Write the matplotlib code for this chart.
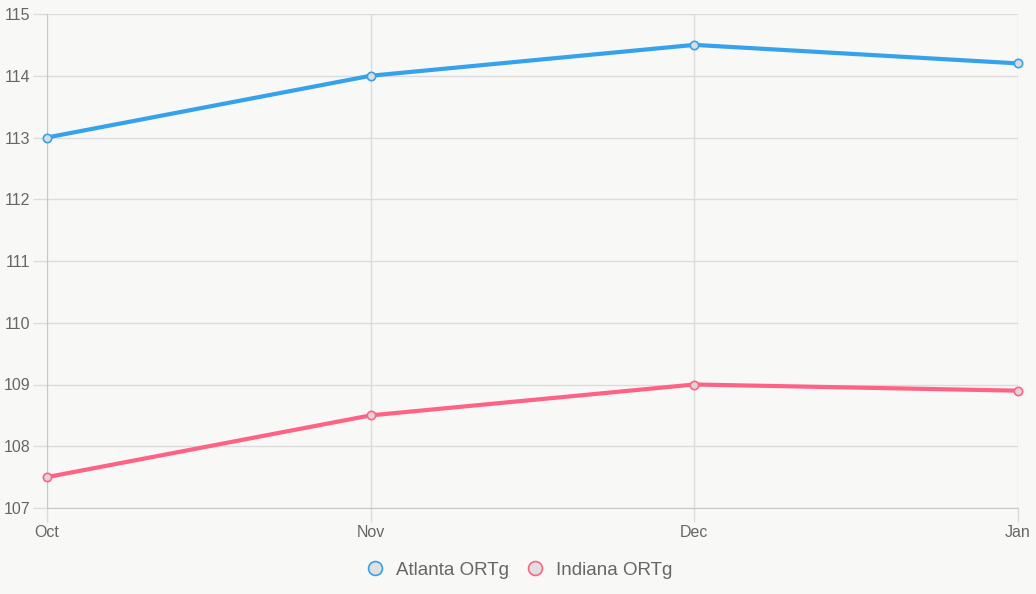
import matplotlib
matplotlib.use("Agg")
import matplotlib.pyplot as plt
from matplotlib.lines import Line2D

months = ["Oct", "Nov", "Dec", "Jan"]
atlanta = [113.0, 114.0, 114.5, 114.2]
indiana = [107.5, 108.5, 109.0, 108.9]
yticks = [107, 108, 109, 110, 111, 112, 113, 114, 115]

blue = "#36a2eb"
pink = "#ff6384"
bg = "#f8f8f6"
grid = "#dcdcdc"
txt = "#666666"

plt.rcParams['font.family'] = ['Liberation Sans', 'DejaVu Sans']

def main():
    fig = plt.figure(figsize=(10.36, 5.94), dpi=100, facecolor=bg)
    ax = fig.add_axes([47 / 1036, 1 - 508 / 594, (1018 - 47) / 1036, (508 - 14) / 594])
    ax.set_facecolor(bg)

    x = list(range(len(months)))
    ax.plot(x, atlanta, color=blue, lw=3, marker="o", ms=6, mfc="#d9dde0",
            mec=blue, mew=1.2, zorder=3, clip_on=False)
    ax.plot(x, indiana, color=pink, lw=3, marker="o", ms=6, mfc="#dcd6d8",
            mec=pink, mew=1.2, zorder=3, clip_on=False)

    ax.set_xlim(0, 3)
    ax.set_ylim(107, 115)
    ax.set_xticks(x)
    ax.set_xticklabels(months)
    ax.set_yticks(yticks)
    ax.grid(True, color=grid, lw=1)
    ax.set_axisbelow(True)
    for s in ["top", "right"]:
        ax.spines[s].set_visible(False)
    for s in ["left", "bottom"]:
        ax.spines[s].set_color("#c8c8c8")
    ax.tick_params(axis="both", colors=grid, labelcolor=txt, labelsize=11.5,
                   length=10, width=1)
    ax.tick_params(axis="x", pad=2)
    ax.tick_params(axis="y", pad=2)

    handles = [
        Line2D([], [], ls="none", marker="o", ms=10, mfc="#e0e0e0", mec=blue, mew=1.2),
        Line2D([], [], ls="none", marker="o", ms=10, mfc="#e0e0e0", mec=pink, mew=1.2),
    ]
    fig.legend(handles, ["Atlanta ORTg", "Indiana ORTg"], loc="center",
               bbox_to_anchor=(518 / 1036, 1 - 570 / 594), ncol=2, frameon=False,
               fontsize=13.5, labelcolor=txt, handletextpad=0.5, columnspacing=0.8,
               handlelength=1.2)

    fig.savefig("out.png", dpi=100, facecolor=bg)

if __name__ == "__main__":
    main()
